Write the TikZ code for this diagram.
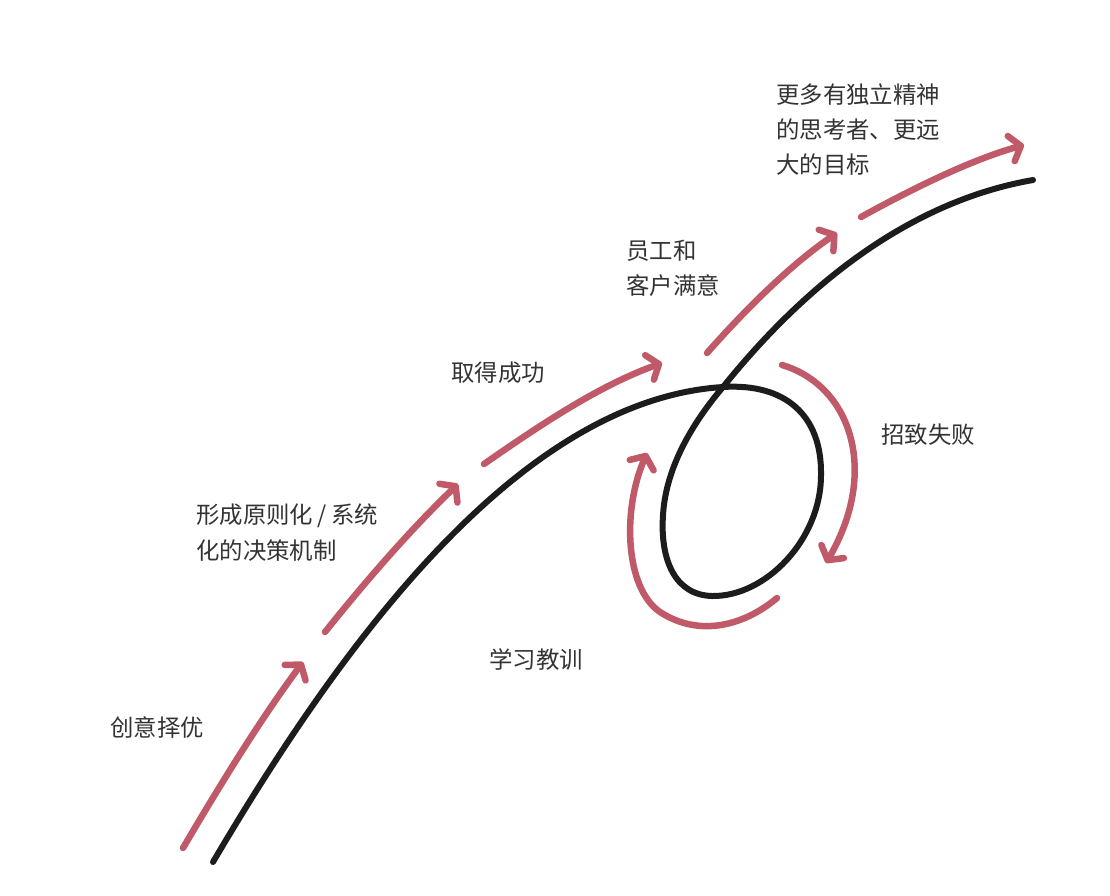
\documentclass[tikz,border=0pt]{standalone}
\usepackage{fontspec}
\setmainfont{Noto Sans CJK SC}
\usetikzlibrary{arrows.meta}
\definecolor{redc}{HTML}{C05A69}
\definecolor{blk}{HTML}{1E1B1C}
\definecolor{txt}{HTML}{333333}
\begin{document}
\begin{tikzpicture}[x=1pt,y=-1pt,
  blackline/.style={draw=blk,line width=6pt,line cap=round,line join=round},
  redarrow/.style={draw=redc,line width=6.5pt,line cap=round,
    -{Straight Barb[length=10pt,width=26pt,round]}},
  lbl/.style={text=txt,inner sep=0pt,anchor=base west,
    font=\fontsize{23.4}{35}\selectfont}]
\useasboundingbox (0,0) rectangle (1110,895);
% main black curve with loop
\draw[blackline] (213,862) .. controls (335,655) and (515,400) .. (723,387)
  .. controls (785,383) and (822,415) .. (821,475)
  .. controls (821,540) and (765,597) .. (712,596)
  .. controls (675,595) and (660,560) .. (663,515)
  .. controls (666,465) and (695,420) .. (723,387)
  .. controls (785,310) and (890,205) .. (1033,180);
% red arrows along the path
\draw[redarrow] (183,848) .. controls (220,785) and (260,720) .. (303,662);
\draw[redarrow] (325,632) .. controls (365,582) and (410,530) .. (458,484);
\draw[redarrow] (484,464) .. controls (540,425) and (600,385) .. (662,363);
\draw[redarrow] (707,353) .. controls (745,310) and (790,265) .. (837,233);
\draw[redarrow] (861,217) .. controls (910,190) and (970,160) .. (1024,145);
% loop arrows
\draw[redarrow] (782,365) .. controls (850,385) and (880,470) .. (826,563);
\draw[redarrow] (777,598) .. controls (745,625) and (700,638) .. (660,612)
  .. controls (625,588) and (622,510) .. (647,453);
% labels
\node[lbl] (t1) at (110,736) {创意择优};
\node[lbl] (t2a) at (196,523) {形成原则化\hspace{4.5pt}/\hspace{4.5pt}系统};
\node[lbl] (t2b) at (196,559) {化的决策机制};
\node[lbl] (t3) at (451,381) {取得成功};
\node[lbl] (t4a) at (626,259) {员工和};
\node[lbl] (t4b) at (626,294) {客户满意};
\node[lbl] (t5a) at (776,103) {更多有独立精神};
\node[lbl] (t5b) at (776,138) {的思考者、更远};
\node[lbl] (t5c) at (776,173) {大的目标};
\node[lbl] (t6) at (881,443) {招致失败};
\node[lbl] (t7) at (489,668) {学习教训};
\end{tikzpicture}
\end{document}
